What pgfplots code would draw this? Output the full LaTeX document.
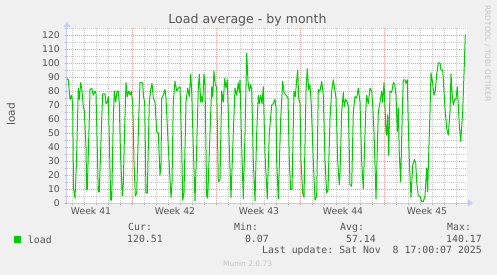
\documentclass[border=0pt]{standalone}
\usepackage{fontspec}
\setmainfont{DejaVu Sans}
\setmonofont{DejaVu Sans Mono}
\usepackage{pgfplots}
\pgfplotsset{compat=1.18}
\usetikzlibrary{arrows.meta}
\definecolor{bg}{HTML}{F0F0F0}
\definecolor{majgrid}{HTML}{E8A0A0}
\definecolor{mingrid}{HTML}{C8C8C8}
\definecolor{axiscol}{HTML}{C8CCF4}
\definecolor{txt}{HTML}{555555}
\definecolor{lite}{HTML}{C4C4C4}
\definecolor{loadcol}{HTML}{00CC00}
\begin{document}
\begin{tikzpicture}
\path[use as bounding box, fill=bg] (-67bp,-72bp) rectangle (430bp,203bp);
\begin{axis}[at={(0,0)}, anchor=south west, scale only axis,
  width=400bp, height=175bp,
  xmin=67, xmax=467, ymin=0, ymax=125,
  axis x line=bottom, axis y line=left,
  axis background/.style={fill=white},
  axis line style={draw=axiscol, line width=1bp},
  x axis line style={-{Triangle[length=5bp,width=7bp]}, shorten >=-6bp},
  y axis line style={-{Triangle[length=5bp,width=7bp]}, shorten >=-6bp},
  grid=both,
  major grid style={draw=majgrid, line width=0.7bp, dash pattern=on 1bp off 1bp},
  minor grid style={draw=mingrid, line width=0.7bp, dash pattern=on 1bp off 1bp},
  xtick={132,216,300,384}, xticklabels={},
  minor xtick={72,84,96,108,120,144,156,168,180,192,204,228,240,252,264,276,288,312,324,336,348,360,372,396,408,420,432,444,456},
  ytick={0,10,...,120}, minor ytick={5,15,...,125},
  extra x ticks={91,175,259,343,427},
  extra x tick labels={Week 41,Week 42,Week 43,Week 44,Week 45},
  extra x tick style={grid=none, major tick length=0pt},
  tick align=outside, major tick length=2bp, minor tick length=2bp,
  tick style={draw=gray!70, line width=0.6bp},
  /pgf/number format/assume math mode=true,
  ticklabel style={font=\fontsize{9.3}{10}\selectfont, text=txt},
  yticklabel style={inner sep=0pt, xshift=-5bp},
  xticklabel style={inner sep=0pt, yshift=-4bp},
  legend style={at={(axis description cs:-0.1325,-0.2114)}, anchor=west,
    draw=none, fill=none, inner sep=0pt, outer sep=0pt,
    font=\ttfamily\fontsize{9.9}{11}\selectfont, text=txt,
    nodes={inner sep=0pt}, column sep=7bp},
  legend image code/.code={\fill[loadcol] (0bp,-3bp) rectangle (6bp,3bp);},
]
\addplot[draw=loadcol, line width=1bp, line join=round] table {
x y
66.7 89
68.3 88
70 74
71.7 77
72.7 70
73.5 10.5
75 3.5
76.5 30
78.3 82
79.3 74
80.7 86
82 80
83.3 69
84.3 66
86 40
86.7 9.5
87.3 10
89.3 60
90 81
91.7 82
93.3 77
95 80
96 78
98.3 8
99.3 8
101.7 60
102.7 78
105 78
106 71
107.3 72
108.3 76
109.5 40
110.7 2
111.7 2
113.3 60
114.3 80
115.7 72
117 80
118.3 80
119.3 71
120.5 35
122.3 5
123.3 13
124.5 50
126 86
127.3 76
128.7 80
130 77
131.3 80
132.7 72
134 30
135.3 5
136.7 7
138.7 60
140 86
141.7 86
142.7 85.5
143.5 76
144.7 72
146 7
147.3 7
149.3 72
150.7 81
152 85.5
153.3 75
155 72
156.7 51
158.3 50
160 20
161 27
161.7 75
163.3 77
165 81
166 75
168.3 40
171 4
172 14
173.3 72
175 87
176.7 80
178.3 82
180 83
181.7 40
182.7 2
184 7
186 72
187.7 82
189.3 76
190.7 92
191.7 80
193.3 40
195 1.5
196.7 40
198.3 82
199.3 92
200.7 72
201.7 76
202.7 72
204 92
205 84.5
206.7 5
207.7 3.5
210 50
211.7 83
212.7 76
214 94
215.3 84.5
216.7 83
218.3 15
220 17
221.7 80
223.3 72
224.7 89
226 82
227.3 88
229.3 40
231 4
233.3 50
235 82
236.7 77
238.3 86
239.3 79
240 88
241.7 40
243.3 3
245 50
246.7 107
248 87
249.3 80
250.7 84.5
251.7 81
253.3 30
255 1.5
256.7 50
258.3 77
259.3 71
260.7 77
262 71
263.3 83
265 35
267.3 3
269.3 50
271.7 70
273.3 71
275 74
276 68
276.7 30
278.3 3
280.7 60
282.7 87
284 79
286 77
288 75
289.3 30
290.7 9.5
292 9.5
294 80
295.3 76
296.7 88
297.7 95
298.7 75
300 71
301 30
302.7 7
304 4
306 80
307.3 96
308.7 81
310 84.5
311.3 70
313.3 30
315 2
316.7 5
318.3 81
320 80
321.7 87
323.3 77
325 30
326.7 7
328 9.5
330 60
331.7 80
333.3 88
335 80
336 75
337.7 30
339.3 13
340 21
341.7 65
343.3 79
344.3 69
345.7 74
347.3 72
348.3 69
350 13
351.7 12
353.3 65
355 76
356.7 75
358.3 82
360 72
361.7 30
363.3 10
365.7 65
366.7 77
368.3 71
370 82
371.7 80
372.7 70
374 51
376 3
378.3 65
380 72
381.7 80
382.7 72
384 86
385 68
386 51
386.7 48.5
387.7 63
388.7 34
390 80
391.7 79
393.3 86
394.7 85
396 77
397.3 51
398.3 68
399.3 35
400.7 15
402.3 65
403.3 88
405 88
406 85.5
407.3 88
408 65
409.3 30
411 4
412.7 27
414.3 31
415.7 29
416.7 15
418.3 5
420 5
421.7 1
423.3 1
425 5
426.7 25
427.7 8
428.3 25
430 65
431 93
432.3 87
434 77
435.3 80
436.7 92
438.3 100
440 100
441 95
442.7 95
443.3 88
445 68
446.7 53.5
448.3 48.5
450 65
451 92
452.3 77
453.3 70
454.7 74
456 74
457.3 83
458.3 70
459.3 56
460.7 44
462.7 65
464 92
465.3 120.5
};
\addlegendentry{load}
\end{axis}
\begin{scope}[x=1bp,y=-1bp,shift={(-67bp,203bp)}]
\node[anchor=base, inner sep=0pt, text=txt, font=\fontsize{12.6}{14}\selectfont] at (247.5,24) {Load average - by month};
\node[anchor=base, rotate=90, inner sep=0pt, text=txt, font=\fontsize{10.6}{12}\selectfont] at (15,114.5) {load};
\node[anchor=base, rotate=-90, inner sep=0pt, text=lite, font=\fontsize{7.5}{9}\selectfont] at (485,53.5) {RRDTOOL / TOBI OETIKER};
\begin{scope}[every node/.style={inner sep=0pt, text=txt, font=\ttfamily\fontsize{9.9}{11}\selectfont}]
\node[anchor=base west] at (128,231) {Cur:};
\node[anchor=base west] at (234,231) {Min:};
\node[anchor=base west] at (340,231) {Avg:};
\node[anchor=base west] at (447,231) {Max:};
\node[anchor=base east] at (163,242.7) {120.51};
\node[anchor=base east] at (269,242.7) {0.07};
\node[anchor=base east] at (376,242.7) {57.14};
\node[anchor=base east] at (482,242.7) {140.17};
\node[anchor=base east] at (482,254) {Last update: Sat Nov\ \ 8 17:00:07 2025};
\end{scope}
\node[anchor=base west, inner sep=0pt, text=lite, font=\fontsize{7.5}{9}\selectfont] at (223,267) {Munin 2.0.73};
\end{scope}
\end{tikzpicture}
\end{document}
